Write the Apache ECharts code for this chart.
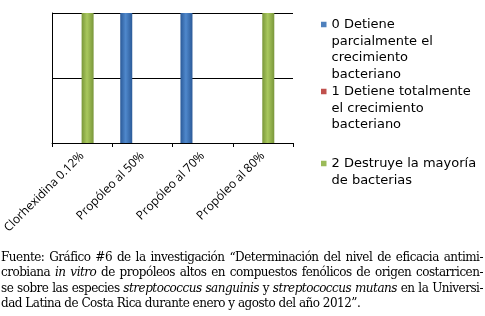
<!DOCTYPE html>
<html><head><meta charset="utf-8">
<script src="https://cdn.jsdelivr.net/npm/echarts@6/dist/echarts.min.js"></script>
<style>
html,body{margin:0;padding:0;background:#fff;}
#c{width:485px;height:316px;position:absolute;left:0;top:0;}
#note{position:absolute;left:1px;top:250px;width:482px;font-family:"DejaVu Serif",serif;font-size:12px;letter-spacing:-0.5px;line-height:15.3px;color:#000;}
#note div{text-align:justify;text-align-last:justify;white-space:nowrap;}
#note div.last{text-align-last:left;}
</style></head>
<body>
<div id="c"></div>
<div id="note">
<div>Fuente: Gráfico #6 de la investigación “Determinación del nivel de eficacia antimi-</div>
<div>crobiana <i>in vitro</i> de propóleos altos en compuestos fenólicos de origen costarricen-</div>
<div>se sobre las especies <i>streptococcus sanguinis</i> y <i>streptococcus mutans</i> en la Universi-</div>
<div class="last">dad Latina de Costa Rica durante enero y agosto del año 2012”.</div>
</div>
<script>
const categories = ["Clorhexidina 0.12%", "Propóleo al 50%", "Propóleo al 70%", "Propóleo al 80%"];
const seriesNames = ["0 Detiene\nparcialmente el\ncrecimiento\nbacteriano", "1 Detiene totalmente\nel crecimiento\nbacteriano", "2 Destruye la mayoría\nde bacterias"];
const serie0 = [0, 1, 1, 0];
const serie1 = [0, 0, 0, 0];
const serie2 = [1, 0, 0, 1];
const yTicks = [0, 0.5, 1];

function cyl(dark, light){
  return new echarts.graphic.LinearGradient(0,0,1,0,[
    {offset:0,color:dark},{offset:0.45,color:light},{offset:1,color:dark}]);
}
const colors = [cyl('#2b5a98','#4f88cc'), cyl('#a03a38','#d06260'), cyl('#7a973a','#a9c85e')];
const iconColors = ['#4f81bd','#c0504d','#9bbb59'];
const dataSets = [serie0, serie1, serie2];

const LH = 16.5;
const IS = 5.5;
function iconPath(lines){
  const H = lines*LH;
  const y0 = LH/2 - IS/2 - 0.5;
  return 'path://M0,0h0.01v0.01h-0.01z M0,' + y0 + 'h' + IS + 'v' + IS + 'h-' + IS + 'z M0,' + (H-0.01) + 'h0.01v0.01h-0.01z';
}

const chart = echarts.init(document.getElementById('c'), null, {renderer:'canvas'});
const series = dataSets.map((d,i)=>({
  name: seriesNames[i], type:'bar', data:d, barWidth:12, barGap:'-10%',
  itemStyle:{color:colors[i]}
}));
series.push({name:'_pad', type:'bar', data:[null,null,null,null], barWidth:12, barGap:'-10%'});
const firstLineCenters = [25, 92, 164];
chart.setOption({
  animation:false,
  grid:{left:52, right:192, top:13, bottom:173},
  xAxis:{type:'category', data:categories,
    axisLine:{lineStyle:{color:'#000'}},
    axisTick:{show:true, length:4, lineStyle:{color:'#000'}},
    axisLabel:{rotate:45, color:'#000', fontFamily:'Open Sans', fontSize:12, margin:11, interval:0}},
  yAxis:{type:'value', min:yTicks[0], max:yTicks[yTicks.length-1], interval:yTicks[1]-yTicks[0],
    axisLine:{show:true, lineStyle:{color:'#000'}},
    axisTick:{show:false},
    axisLabel:{show:false},
    splitLine:{lineStyle:{color:'#000', width:1}}},
  legend: seriesNames.map((n,i)=>{
    const lines = n.split('\n').length;
    return {
      data:[{name:n, icon:iconPath(lines), itemStyle:{color:iconColors[i]}}],
      orient:'vertical', left:321, top:firstLineCenters[i]-LH/2, padding:0,
      itemWidth:IS, itemHeight:lines*LH, symbolKeepAspect:false, itemGap:0,
      textStyle:{fontFamily:'DejaVu Sans', fontSize:13, color:'#000', lineHeight:LH}
    };
  }),
  series: series
});
</script>
</body></html>
